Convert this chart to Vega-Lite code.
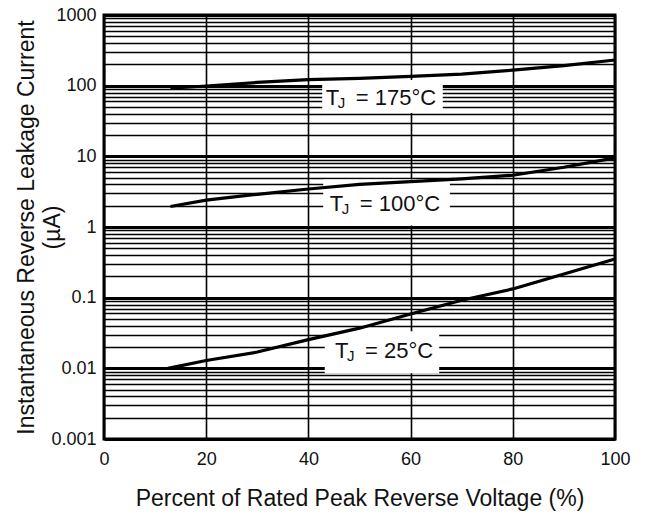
{
  "$schema": "https://vega.github.io/schema/vega-lite/v6.json",
  "width": 511,
  "height": 424,
  "autosize": {"type": "none"},
  "padding": {"left": 104, "top": 15, "right": 33, "bottom": 76},
  "background": "white",
  "config": {
    "font": "Liberation Sans",
    "view": {"stroke": "black", "strokeWidth": 3},
    "text": {"font": "Liberation Sans", "color": "#111"}
  },
  "datasets": {
    "curves": [
      {"series": "175", "pct": 13, "current": 92},
      {"series": "175", "pct": 20, "current": 99},
      {"series": "175", "pct": 30, "current": 111},
      {"series": "175", "pct": 40, "current": 122},
      {"series": "175", "pct": 50, "current": 127},
      {"series": "175", "pct": 60, "current": 135},
      {"series": "175", "pct": 70, "current": 146},
      {"series": "175", "pct": 80, "current": 166},
      {"series": "175", "pct": 90, "current": 192},
      {"series": "175", "pct": 100, "current": 231},
      {"series": "100", "pct": 13, "current": 1.95},
      {"series": "100", "pct": 20, "current": 2.4},
      {"series": "100", "pct": 30, "current": 2.9},
      {"series": "100", "pct": 40, "current": 3.45},
      {"series": "100", "pct": 50, "current": 4.0},
      {"series": "100", "pct": 60, "current": 4.4},
      {"series": "100", "pct": 70, "current": 4.8},
      {"series": "100", "pct": 80, "current": 5.4},
      {"series": "100", "pct": 90, "current": 7.0},
      {"series": "100", "pct": 100, "current": 9.5},
      {"series": "25", "pct": 12.5, "current": 0.01},
      {"series": "25", "pct": 20, "current": 0.0129},
      {"series": "25", "pct": 30, "current": 0.017},
      {"series": "25", "pct": 40, "current": 0.0255},
      {"series": "25", "pct": 50, "current": 0.037},
      {"series": "25", "pct": 60, "current": 0.0587},
      {"series": "25", "pct": 70, "current": 0.092},
      {"series": "25", "pct": 80, "current": 0.133},
      {"series": "25", "pct": 90, "current": 0.216},
      {"series": "25", "pct": 100, "current": 0.353}
    ],
    "labels": [
      {"series": "175", "x0": 42.7, "x1": 66.3, "y0": 41, "y1": 120, "tx": 43.4, "ty": 68, "rest": "= 175°C"},
      {"series": "100", "x0": 42.9, "x1": 67.7, "y0": 1.05, "y1": 4.7, "tx": 44.2, "ty": 2.15, "rest": "= 100°C"},
      {"series": "25", "x0": 43.2, "x1": 65.6, "y0": 0.0085, "y1": 0.0334, "tx": 45.2, "ty": 0.0174, "rest": "= 25°C"}
    ]
  },
  "layer": [
    {
      "data": {"name": "labels"},
      "mark": {"type": "rect", "fill": "white", "stroke": null},
      "encoding": {
        "x": {"field": "x0", "type": "quantitative"},
        "x2": {"field": "x1"},
        "y": {"field": "y0", "type": "quantitative"},
        "y2": {"field": "y1"}
      }
    },
    {
      "data": {"name": "curves"},
      "mark": {"type": "line", "color": "black", "strokeWidth": 3.2},
      "encoding": {
        "detail": {"field": "series", "type": "nominal"},
        "x": {
          "field": "pct",
          "type": "quantitative",
          "scale": {"domain": [0, 100], "nice": false, "zero": false},
          "axis": {
            "values": [0, 20, 40, 60, 80, 100],
            "grid": true,
            "gridColor": "black",
            "gridWidth": 1.6,
            "gridOpacity": 1,
            "ticks": false,
            "domain": false,
            "labelFlush": false,
            "labelFontSize": 18,
            "labelColor": "#111",
            "labelPadding": 11,
            "labelFont": "Liberation Sans",
            "title": "Percent of Rated Peak Reverse Voltage (%)",
            "titleFont": "Liberation Sans",
            "titleFontSize": 23,
            "titleFontWeight": "normal",
            "titleColor": "#111",
            "titleBaseline": "alphabetic",
            "titleY": 66
          }
        },
        "y": {
          "field": "current",
          "type": "quantitative",
          "scale": {"type": "log", "domain": [0.001, 1000], "nice": false},
          "axis": {
            "values": [0.001, 0.002, 0.003, 0.004, 0.005, 0.006, 0.007, 0.008, 0.009,
                       0.01, 0.02, 0.03, 0.04, 0.05, 0.06, 0.07, 0.08, 0.09,
                       0.1, 0.2, 0.3, 0.4, 0.5, 0.6, 0.7, 0.8, 0.9,
                       1, 2, 3, 4, 5, 6, 7, 8, 9,
                       10, 20, 30, 40, 50, 60, 70, 80, 90,
                       100, 200, 300, 400, 500, 600, 700, 800, 900, 1000],
            "format": "~g",
            "labelExpr": "abs(log(datum.value)/LN10 - round(log(datum.value)/LN10)) < 0.001 ? datum.label : ''",
            "labelOverlap": false,
            "labelFlush": false,
            "grid": true,
            "gridColor": "black",
            "gridOpacity": 1,
            "gridWidth": {"condition": {"test": "abs(log(datum.value)/LN10 - round(log(datum.value)/LN10)) < 0.001", "value": 3}, "value": 1.3},
            "ticks": false,
            "domain": false,
            "labelFontSize": 18,
            "labelColor": "#111",
            "labelPadding": 8,
            "labelFont": "Liberation Sans",
            "title": ["Instantaneous Reverse Leakage Current", "(µA)"],
            "titleFont": "Liberation Sans",
            "titleFontSize": 23,
            "titleFontWeight": "normal",
            "titleColor": "#111",
            "titleAngle": -90,
            "titleBaseline": "alphabetic",
            "titleAlign": "center",
            "titleLineHeight": 26,
            "titleX": -71,
            "titleY": 212
          }
        }
      }
    },
    {
      "data": {"name": "labels"},
      "mark": {"type": "text", "text": "T", "align": "left", "baseline": "middle", "fontSize": 22},
      "encoding": {
        "x": {"field": "tx", "type": "quantitative"},
        "y": {"field": "ty", "type": "quantitative"}
      }
    },
    {
      "data": {"name": "labels"},
      "mark": {"type": "text", "text": "J", "align": "left", "baseline": "middle", "fontSize": 15, "dx": 12, "dy": 5},
      "encoding": {
        "x": {"field": "tx", "type": "quantitative"},
        "y": {"field": "ty", "type": "quantitative"}
      }
    },
    {
      "data": {"name": "labels"},
      "mark": {"type": "text", "align": "left", "baseline": "middle", "fontSize": 22, "dx": 30},
      "encoding": {
        "x": {"field": "tx", "type": "quantitative"},
        "y": {"field": "ty", "type": "quantitative"},
        "text": {"field": "rest"}
      }
    }
  ]
}
